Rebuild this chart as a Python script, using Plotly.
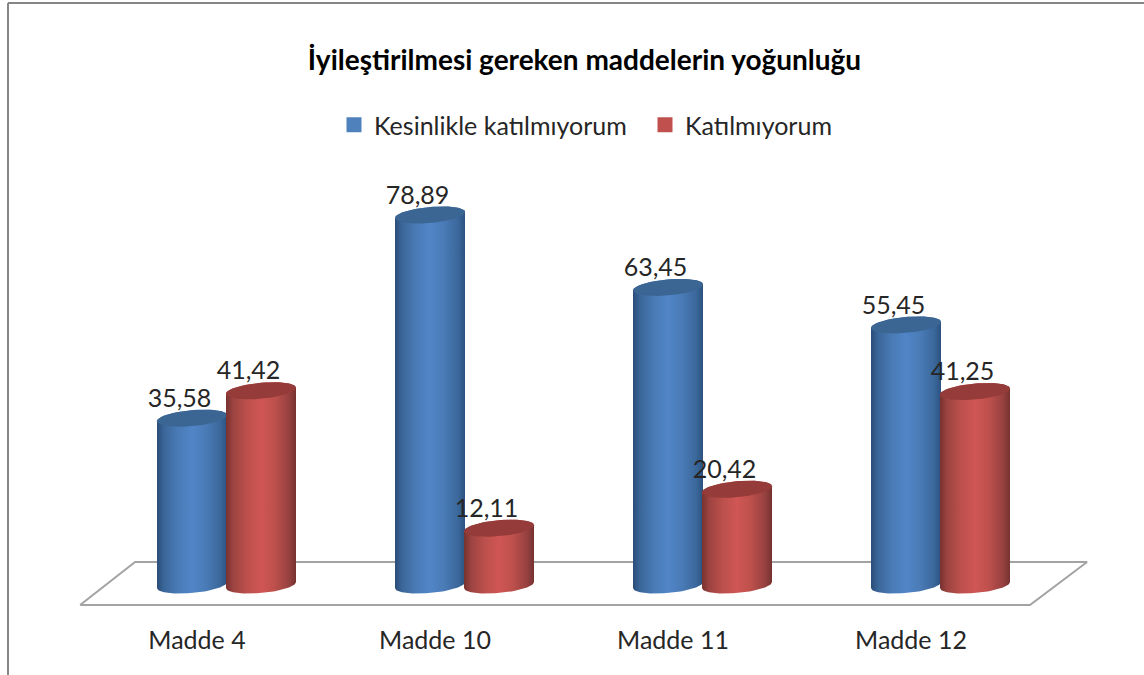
import numpy as np
import plotly.graph_objects as go

categories = ["Madde 4", "Madde 10", "Madde 11", "Madde 12"]
series_names = ["Kesinlikle katılmıyorum", "Katılmıyorum"]
kesinlikle = [35.58, 78.89, 63.45, 55.45]
katilmiyorum = [41.42, 12.11, 20.42, 41.25]
title_text = "İyileştirilmesi gereken maddelerin yoğunluğu"

W, H = 1144, 675
MB = 60
PX_PER_CAT = 238.0
PX_PER_VAL = 4.69
X0_PX = 226.0
Y0_PX = 585.0
xr = [(0 - X0_PX) / PX_PER_CAT, (W - X0_PX) / PX_PER_CAT]
yr = [(Y0_PX - (H - MB)) / PX_PER_VAL, Y0_PX / PX_PER_VAL]

HALF = 35.0 / PX_PER_CAT
OFFS = [-34.0 / PX_PER_CAT, 35.0 / PX_PER_CAT]
B = 8.0 / PX_PER_VAL
TILT = 3.0 / PX_PER_VAL
LABEL_DX = -12.5 / PX_PER_CAT
LABEL_DY = 17.5 / PX_PER_VAL
FONT = "Lato, Carlito, sans-serif"

BLUE = ["#2a4c78", "#3a6699", "#4a7bb6", "#5085c7", "#4a7bb6", "#3b689c", "#2c5280"]
RED = ["#773230", "#9c4340", "#bc504c", "#d05654", "#bd504c", "#964140", "#763230"]
CAP = ["#3b6593", "#953b39"]
LEG = ["#4f81bd", "#c0504d"]


def scale(cols):
    pos = [0, 0.1, 0.3, 0.5, 0.7, 0.9, 1]
    return [[p, c] for p, c in zip(pos, cols)]


def cylinder(cx, val, cols, cap):
    t_bot = np.linspace(np.pi, 2 * np.pi, 40)
    t_top = np.linspace(0, np.pi, 40)
    xb = cx + HALF * np.cos(t_bot)
    yb = B * np.sin(t_bot) + TILT * np.cos(t_bot)
    xt = cx + HALF * np.cos(t_top)
    yt = val + B * np.sin(t_top) + TILT * np.cos(t_top)
    body = go.Scatter(x=np.r_[xb, xt], y=np.r_[yb, yt],
                      mode="lines", line=dict(width=0), fill="toself",
                      fillgradient=dict(type="horizontal", colorscale=scale(cols)),
                      showlegend=False, hoverinfo="skip")
    t = np.linspace(0, 2 * np.pi, 80)
    top = go.Scatter(x=cx + HALF * np.cos(t), y=val + B * np.sin(t) + TILT * np.cos(t),
                     mode="lines", line=dict(width=0), fill="toself", fillcolor=cap,
                     showlegend=False, hoverinfo="skip")
    return [body, top]


fig = go.Figure()

# floor of the 3D chart
floor_x = [-0.613, -0.382, 3.618, 3.378, -0.613]
floor_y = [-4.26, 4.9, 4.9, -4.26, -4.26]
fig.add_trace(go.Scatter(x=floor_x, y=floor_y, mode="lines",
                         line=dict(color="#a3a3a3", width=2),
                         showlegend=False, hoverinfo="skip"))

for s, vals in enumerate([kesinlikle, katilmiyorum]):
    for i, v in enumerate(vals):
        for tr in cylinder(i + OFFS[s], v, BLUE if s == 0 else RED, CAP[s]):
            fig.add_trace(tr)

for s, vals in enumerate([kesinlikle, katilmiyorum]):
    fig.add_trace(go.Scatter(
        x=[i + OFFS[s] + LABEL_DX for i in range(len(vals))],
        y=[v + LABEL_DY for v in vals],
        mode="text", text=[f"{v:.2f}".replace(".", ",") for v in vals],
        textposition="middle center",
        textfont=dict(family=FONT, size=25, color="#262626"),
        showlegend=False, hoverinfo="skip"))

for s, name in enumerate(series_names):
    fig.add_trace(go.Scatter(x=[None], y=[None], mode="markers", name=name,
                             marker=dict(symbol="square", size=15, color=LEG[s])))

LABEL_SHIFT = -29.0 / PX_PER_CAT
fig.update_layout(
    width=W, height=H, autosize=False,
    margin=dict(l=0, r=0, t=0, b=MB, pad=0),
    paper_bgcolor="white", plot_bgcolor="white",
    title=dict(text=f"<b>{title_text}</b>", x=584.5 / W, xanchor="center",
               y=1 - 60 / H, yanchor="middle",
               font=dict(family=FONT, size=28, color="#000000")),
    legend=dict(orientation="h", x=334 / W, xanchor="left", y=1 - 125 / (H - MB),
                yanchor="middle", font=dict(family=FONT, size=25, color="#262626"),
                entrywidth=266, entrywidthmode="pixels",
                bgcolor="rgba(0,0,0,0)"),
    xaxis=dict(range=xr, tickvals=[i + LABEL_SHIFT for i in range(len(categories))],
               ticktext=categories, showgrid=False, zeroline=False, showline=False,
               ticks="outside", ticklen=3, tickcolor="rgba(0,0,0,0)",
               tickfont=dict(family=FONT, size=25, color="#262626"), fixedrange=True),
    yaxis=dict(range=yr, visible=False, fixedrange=True),
    shapes=[
        dict(type="line", xref="paper", yref="paper", x0=8 / W, x1=1, y0=1 - 3 / (H - MB), y1=1 - 3 / (H - MB),
             line=dict(color="#868686", width=2)),
        dict(type="line", xref="paper", yref="paper", x0=8 / W, x1=8 / W, y0=1 - 3 / (H - MB), y1=-MB / (H - MB),
             line=dict(color="#868686", width=2)),
    ],
)
fig.write_html("out.html", config={"displayModeBar": False},
               post_script="document.body.style.margin='0';document.body.style.overflow='hidden';")
